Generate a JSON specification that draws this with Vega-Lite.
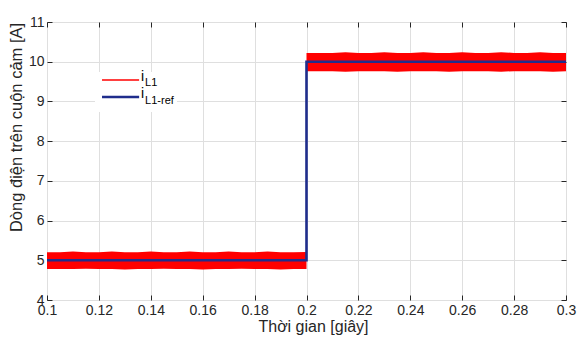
{
  "$schema": "https://vega.github.io/schema/vega-lite/v6.json",
  "width": 519,
  "height": 278,
  "autosize": "none",
  "padding": {"left": 47, "top": 22, "right": 16, "bottom": 38},
  "background": "white",
  "config": {
    "view": {"stroke": "#262626", "strokeWidth": 1},
    "font": "Liberation Sans",
    "axis": {"labelFont": "Liberation Sans", "titleFont": "Liberation Sans"}
  },
  "datasets": {
    "ripple": [
      {"seg": "a", "t": 0.100, "hi": 5.20, "lo": 4.78},
      {"seg": "a", "t": 0.105, "hi": 5.20, "lo": 4.78},
      {"seg": "a", "t": 0.110, "hi": 5.22, "lo": 4.78},
      {"seg": "a", "t": 0.115, "hi": 5.20, "lo": 4.79},
      {"seg": "a", "t": 0.120, "hi": 5.20, "lo": 4.78},
      {"seg": "a", "t": 0.125, "hi": 5.22, "lo": 4.78},
      {"seg": "a", "t": 0.130, "hi": 5.20, "lo": 4.77},
      {"seg": "a", "t": 0.135, "hi": 5.20, "lo": 4.78},
      {"seg": "a", "t": 0.140, "hi": 5.22, "lo": 4.78},
      {"seg": "a", "t": 0.145, "hi": 5.20, "lo": 4.79},
      {"seg": "a", "t": 0.150, "hi": 5.20, "lo": 4.78},
      {"seg": "a", "t": 0.155, "hi": 5.22, "lo": 4.78},
      {"seg": "a", "t": 0.160, "hi": 5.20, "lo": 4.77},
      {"seg": "a", "t": 0.165, "hi": 5.20, "lo": 4.78},
      {"seg": "a", "t": 0.170, "hi": 5.22, "lo": 4.78},
      {"seg": "a", "t": 0.175, "hi": 5.20, "lo": 4.79},
      {"seg": "a", "t": 0.180, "hi": 5.20, "lo": 4.78},
      {"seg": "a", "t": 0.185, "hi": 5.22, "lo": 4.78},
      {"seg": "a", "t": 0.190, "hi": 5.20, "lo": 4.77},
      {"seg": "a", "t": 0.195, "hi": 5.20, "lo": 4.78},
      {"seg": "a", "t": 0.200, "hi": 5.21, "lo": 4.78},
      {"seg": "b", "t": 0.200, "hi": 10.22, "lo": 9.76},
      {"seg": "b", "t": 0.205, "hi": 10.22, "lo": 9.76},
      {"seg": "b", "t": 0.210, "hi": 10.22, "lo": 9.76},
      {"seg": "b", "t": 0.215, "hi": 10.24, "lo": 9.75},
      {"seg": "b", "t": 0.220, "hi": 10.22, "lo": 9.76},
      {"seg": "b", "t": 0.225, "hi": 10.22, "lo": 9.76},
      {"seg": "b", "t": 0.230, "hi": 10.24, "lo": 9.76},
      {"seg": "b", "t": 0.235, "hi": 10.22, "lo": 9.75},
      {"seg": "b", "t": 0.240, "hi": 10.22, "lo": 9.76},
      {"seg": "b", "t": 0.245, "hi": 10.24, "lo": 9.76},
      {"seg": "b", "t": 0.250, "hi": 10.22, "lo": 9.76},
      {"seg": "b", "t": 0.255, "hi": 10.22, "lo": 9.75},
      {"seg": "b", "t": 0.260, "hi": 10.24, "lo": 9.76},
      {"seg": "b", "t": 0.265, "hi": 10.22, "lo": 9.76},
      {"seg": "b", "t": 0.270, "hi": 10.22, "lo": 9.76},
      {"seg": "b", "t": 0.275, "hi": 10.24, "lo": 9.75},
      {"seg": "b", "t": 0.280, "hi": 10.22, "lo": 9.76},
      {"seg": "b", "t": 0.285, "hi": 10.22, "lo": 9.76},
      {"seg": "b", "t": 0.290, "hi": 10.24, "lo": 9.76},
      {"seg": "b", "t": 0.295, "hi": 10.22, "lo": 9.75},
      {"seg": "b", "t": 0.300, "hi": 10.22, "lo": 9.76}
    ],
    "reference": [
      {"k": 1, "t": 0.1, "i": 5},
      {"k": 2, "t": 0.2, "i": 5},
      {"k": 3, "t": 0.2, "i": 10},
      {"k": 4, "t": 0.3, "i": 10}
    ],
    "one": [{}]
  },
  "resolve": {"axis": {"x": "independent", "y": "independent"}},
  "layer": [
    {
      "data": {"name": "ripple"},
      "mark": {"type": "area", "color": "#ff0000", "opacity": 1},
      "encoding": {
        "x": {
          "field": "t", "type": "quantitative",
          "scale": {"domain": [0.1, 0.3], "nice": false, "zero": false},
          "axis": {
            "orient": "bottom", "values": [0.1,0.12,0.14,0.16,0.18,0.2,0.22,0.24,0.26,0.28,0.3],
            "format": "~g", "title": "Thời gian [giây]", "titleFontSize": 16, "titleFontWeight": "normal",
            "titleColor": "#262626", "titlePadding": 1, "titleX": 266,
            "labelFontSize": 14, "labelColor": "#262626", "labelPadding": 8, "labelFlush": false,
            "tickSize": -5, "tickColor": "#262626", "domain": false,
            "grid": true, "gridColor": "#dfdfdf"
          }
        },
        "y": {
          "field": "lo", "type": "quantitative",
          "scale": {"domain": [4, 11], "nice": false, "zero": false},
          "axis": {
            "orient": "left", "values": [4,5,6,7,8,9,10,11],
            "title": "Dòng điện trên cuộn cảm [A]", "titleFontSize": 16.5, "titleFontWeight": "normal",
            "titleColor": "#262626", "titlePadding": 4, "titleY": 105,
            "labelFontSize": 14, "labelColor": "#262626", "labelPadding": 8, "labelFlush": false,
            "tickSize": -5, "tickColor": "#262626", "domain": false,
            "grid": true, "gridColor": "#dfdfdf"
          }
        },
        "y2": {"field": "hi"},
        "detail": {"field": "seg"}
      }
    },
    {
      "data": {"name": "reference"},
      "mark": {"type": "line", "color": "#1f2d8c", "strokeWidth": 2.6},
      "encoding": {
        "x": {
          "field": "t", "type": "quantitative",
          "scale": {"domain": [0.1, 0.3], "nice": false, "zero": false},
          "axis": {"orient": "top", "values": [0.1,0.12,0.14,0.16,0.18,0.2,0.22,0.24,0.26,0.28,0.3],
                   "labels": false, "title": null, "grid": false, "domain": false,
                   "tickSize": -5, "tickColor": "#262626"}
        },
        "y": {
          "field": "i", "type": "quantitative",
          "scale": {"domain": [4, 11], "nice": false, "zero": false},
          "axis": {"orient": "right", "values": [4,5,6,7,8,9,10,11],
                   "labels": false, "title": null, "grid": false, "domain": false,
                   "tickSize": -5, "tickColor": "#262626"}
        },
        "order": {"field": "k"}
      }
    },
    {
      "data": {"name": "one"},
      "mark": {"type": "rect", "color": "white"},
      "encoding": {
        "x": {"datum": 0.1185, "type": "quantitative", "axis": null},
        "x2": {"datum": 0.1501},
        "y": {"datum": 9.741, "type": "quantitative", "axis": null},
        "y2": {"datum": 8.734}
      }
    },
    {
      "data": {"name": "one"},
      "mark": {"type": "rule", "color": "#ff0000", "strokeWidth": 1.5},
      "encoding": {
        "x": {"datum": 0.1212, "type": "quantitative", "axis": null},
        "x2": {"datum": 0.1355},
        "y": {"datum": 9.54, "type": "quantitative", "axis": null}
      }
    },
    {
      "data": {"name": "one"},
      "mark": {"type": "rule", "color": "#1f2d8c", "strokeWidth": 2.6},
      "encoding": {
        "x": {"datum": 0.1212, "type": "quantitative", "axis": null},
        "x2": {"datum": 0.1355},
        "y": {"datum": 9.112, "type": "quantitative", "axis": null}
      }
    },
    {
      "data": {"values": [{"lx": 0.1362, "ly": 9.515}, {"lx": 0.1362, "ly": 9.079}]},
      "mark": {"type": "text", "text": "i", "fontSize": 14, "align": "left", "baseline": "alphabetic", "color": "#000000", "font": "Liberation Sans"},
      "encoding": {
        "x": {"field": "lx", "type": "quantitative", "axis": null},
        "y": {"field": "ly", "type": "quantitative", "axis": null}
      }
    },
    {
      "data": {"values": [{"lx": 0.1378, "ly": 9.389, "lab": "L1"}, {"lx": 0.1378, "ly": 8.936, "lab": "L1-ref"}]},
      "mark": {"type": "text", "fontSize": 11, "align": "left", "baseline": "alphabetic", "color": "#000000", "font": "Liberation Sans"},
      "encoding": {
        "x": {"field": "lx", "type": "quantitative", "axis": null},
        "y": {"field": "ly", "type": "quantitative", "axis": null},
        "text": {"field": "lab"}
      }
    }
  ]
}
